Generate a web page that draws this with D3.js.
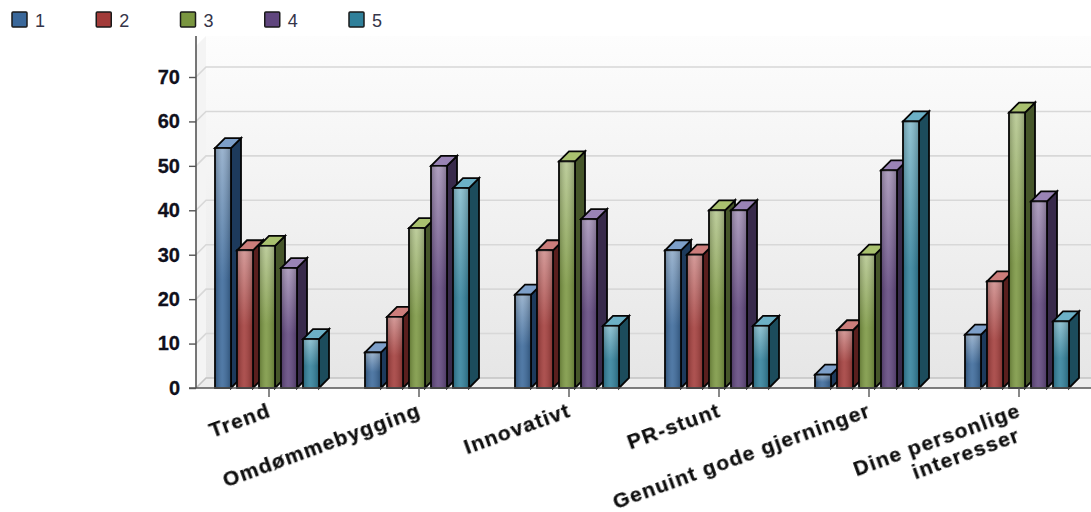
<!DOCTYPE html>
<html>
<head>
<meta charset="utf-8">
<script src="https://cdnjs.cloudflare.com/ajax/libs/d3/7.8.5/d3.min.js"></script>
<style>
html,body{margin:0;padding:0;background:#fff;overflow:hidden}
text{font-family:"Liberation Sans",Arial,sans-serif}
</style>
</head>
<body>
<svg id="chart" width="1091" height="512"></svg>
<script>
const categories = ["Trend","Omdømmebygging","Innovativt","PR-stunt","Genuint gode gjerninger",["Dine personlige","interesser"]];
const seriesNames = ["1","2","3","4","5"];
const series1 = [54,8,21,31,3,12];
const series2 = [31,16,31,30,13,24];
const series3 = [32,36,51,40,30,62];
const series4 = [27,50,38,40,49,42];
const series5 = [11,45,14,14,60,15];
const allSeries = [series1,series2,series3,series4,series5];
const yTicks = [0,10,20,30,40,50,60,70];
// base, light, dark-top and side colours for each series
const baseColors = ["#3a689a","#a23b39","#7a9640","#60467e","#30809a"];
const lightColors = ["#8fabc9","#d08e8c","#b5c78f","#a593b8","#84bccd"];
const topColors = ["#7d9fc9","#cc7d7b","#a9c16f","#9983b5","#6cb0c6"];
const sideColors = ["#1d3a5c","#5a1f1e","#46562a","#382a4b","#1c4c5c"];

const svg = d3.select("#chart");
const W = 1091, H = 512;
const depth = 10;
const axisX = 196, plotTop = 36;

const y = d3.scaleLinear().domain([0,70]).range([388,77]);
const x0 = d3.scaleBand().domain(d3.range(categories.length)).range([194,1094]);
const x1 = d3.scaleBand().domain(d3.range(seriesNames.length)).range([21,125]).paddingInner(6/22);

const defs = svg.append("defs");
const wallGrad = defs.append("linearGradient").attr("id","wall").attr("x1",0).attr("x2",0).attr("y1",0).attr("y2",1);
wallGrad.append("stop").attr("offset",0).attr("stop-color","#fdfdfd");
wallGrad.append("stop").attr("offset",1).attr("stop-color","#e6e6e6");
defs.append("filter").attr("id","soft").attr("x","-5%").attr("y","-20%").attr("width","110%").attr("height","140%")
  .append("feGaussianBlur").attr("stdDeviation",0.7);

baseColors.forEach((c,i)=>{
  const g = defs.append("linearGradient").attr("id","front"+i).attr("x1",0).attr("x2",0).attr("y1",0).attr("y2",1);
  g.append("stop").attr("offset",0).attr("stop-color",lightColors[i]);
  g.append("stop").attr("offset",0.55).attr("stop-color",baseColors[i]);
  g.append("stop").attr("offset",1).attr("stop-color",baseColors[i]);
});
// side sheen laid over each front face
const sheen = defs.append("linearGradient").attr("id","sheen");
sheen.append("stop").attr("offset",0).attr("stop-color","#000").attr("stop-opacity",0.22);
sheen.append("stop").attr("offset",0.45).attr("stop-color","#fff").attr("stop-opacity",0.12);
sheen.append("stop").attr("offset",1).attr("stop-color","#000").attr("stop-opacity",0.22);

// back wall, side wall and floor
svg.append("rect").attr("x",axisX+depth).attr("y",plotTop).attr("width",W-axisX-depth).attr("height",y(0)-depth-plotTop).attr("fill","url(#wall)");
svg.append("path").attr("d",`M${axisX},${plotTop+depth}L${axisX+depth},${plotTop}V${y(0)-depth}L${axisX},${y(0)}Z`).attr("fill","#f4f4f4");
svg.append("path").attr("d",`M${axisX},${y(0)}L${axisX+depth},${y(0)-depth}H${W}V${y(0)}Z`).attr("fill","#ededed");

// gridlines on the walls
const grid = svg.append("g").attr("fill","none");
grid.selectAll("path.wall").data(yTicks).join("path").attr("class","wall")
  .attr("d",d=>`M${axisX},${y(d)}L${axisX+depth},${y(d)-depth}H${W}`)
  .attr("stroke",d=>d===0?"#c4c4c4":"#d8d8d8").attr("stroke-width",1.6);

// bars, with left groups painted first so each overlaps nothing to its left
const bars = svg.append("g").attr("stroke","#050505").attr("stroke-width",1.8).attr("stroke-linejoin","miter");
categories.forEach((_,c)=>{
  allSeries.forEach((vals,s)=>{
    const xl = x0(c)+x1(s), w = x1.bandwidth(), yt = y(vals[c]), yb = y(0);
    const b = bars.append("g");
    b.append("path").attr("d",`M${xl+w},${yt}L${xl+w+depth},${yt-depth}V${yb-depth}L${xl+w},${yb}Z`).attr("fill",sideColors[s]);
    b.append("path").attr("d",`M${xl},${yt}L${xl+depth},${yt-depth}H${xl+w+depth}L${xl+w},${yt}Z`).attr("fill",topColors[s]);
    b.append("rect").attr("x",xl).attr("y",yt).attr("width",w).attr("height",yb-yt).attr("fill",`url(#front${s})`);
    b.append("rect").attr("x",xl).attr("y",yt).attr("width",w).attr("height",yb-yt).attr("fill","url(#sheen)").attr("stroke","none");
  });
});

// axes
const yAxis = d3.axisLeft(y).tickValues(yTicks).tickSize(7).tickPadding(9);
const gy = svg.append("g").attr("transform",`translate(${axisX},0)`).call(yAxis);
gy.select(".domain").attr("d",`M0,${plotTop}V${y(0)}`).attr("stroke","#555").attr("stroke-width",1.6);
gy.selectAll(".tick line").attr("stroke","#555").attr("stroke-width",1.4);
gy.selectAll("text").attr("font-size",20).attr("font-weight","bold").attr("fill","#10101c").attr("stroke","#10101c").attr("stroke-width",0.3).style("font-family","'Liberation Sans',Arial,sans-serif");

const xAxis = svg.append("g");
xAxis.append("line").attr("x1",axisX-7).attr("x2",W).attr("y1",y(0)).attr("y2",y(0)).attr("stroke","#555").attr("stroke-width",1.6);
xAxis.selectAll("line.tick").data(categories).join("line").attr("class","tick")
  .attr("x1",(d,i)=>x0(i)+x0.bandwidth()/2).attr("x2",(d,i)=>x0(i)+x0.bandwidth()/2)
  .attr("y1",y(0)).attr("y2",y(0)+9).attr("stroke","#555").attr("stroke-width",1.4);

// slanted category labels, anchored at their end under each tick; wrapped lines step slightly inwards
const labels = xAxis.selectAll("text.cat").data(categories).join("text").attr("class","cat")
  .attr("transform",(d,i)=>`translate(${x0(i)+x0.bandwidth()/2+3},${y(0)+28}) rotate(-20)`)
  .attr("text-anchor","end").attr("font-size",21).attr("font-weight","bold").attr("fill","#111")
  .attr("stroke","#111").attr("stroke-width",0.25)
  .attr("letter-spacing",1.25)
  .attr("filter","url(#soft)");
labels.each(function(d){
  const lines = Array.isArray(d)?d:[d];
  d3.select(this).selectAll("tspan").data(lines).join("tspan")
    .attr("x",(l,i)=>i?-9:0).attr("dy",(l,i)=>i?23:0).text(l=>l);
});

// legend
const legend = svg.append("g");
const lx = d3.scalePoint().domain(seriesNames).range([12,349]);
const li = legend.selectAll("g").data(seriesNames).join("g").attr("transform",d=>`translate(${lx(d)},12)`);
li.append("rect").attr("width",15).attr("height",15).attr("rx",1).attr("fill",(d,i)=>baseColors[i]).attr("stroke","#1a1a1a").attr("stroke-width",1.5);
li.append("text").attr("x",23).attr("y",14.5).attr("font-size",18).attr("fill","#35354a").text(d=>d);
</script>
</body>
</html>
